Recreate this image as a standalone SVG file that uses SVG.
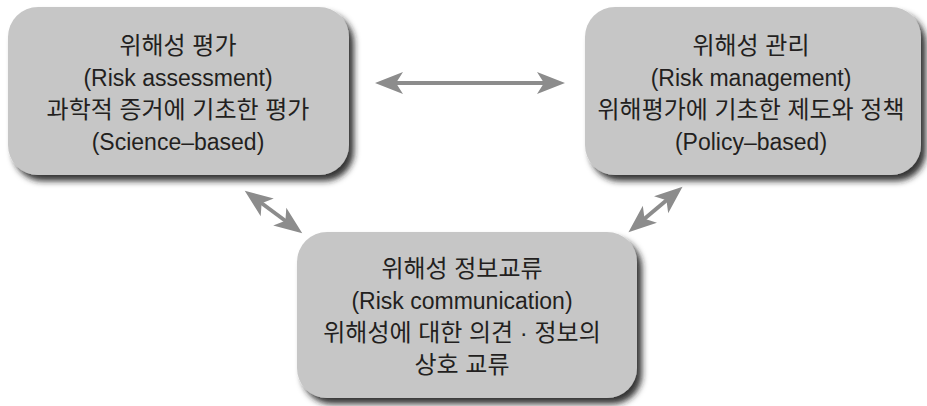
<svg xmlns="http://www.w3.org/2000/svg" width="927" height="406" viewBox="0 0 927 406">
<defs>
<filter id="sh" x="-10%" y="-10%" width="125%" height="130%">
<feDropShadow dx="5" dy="6" stdDeviation="3" flood-color="#1a1a1a" flood-opacity="0.9"/>
</filter>
<marker id="ah" markerUnits="userSpaceOnUse" markerWidth="30" markerHeight="24" viewBox="0 0 30 24" refX="10" refY="12" orient="auto-start-reverse">
<path d="M29,12 L1,1 L8,12 L1,23 Z" fill="#8c8c8c"/>
</marker>
</defs>
<style>
.box{fill:#c6c6c6;filter:url(#sh)}
.t{font-family:"Liberation Sans","Noto Sans CJK KR",sans-serif;font-size:23px;fill:#231f20;text-anchor:middle}
.k{font-size:24px}
.c{stroke:#8c8c8c;stroke-width:4;fill:none;marker-start:url(#ah);marker-end:url(#ah)}
</style>
<rect width="927" height="406" fill="#fff"/>
<g id="assessment">
<rect class="box" x="8" y="7" width="341" height="168" rx="30"/>
<text class="t k" x="178" y="54">위해성 평가</text>
<text class="t" x="178" y="86">(Risk assessment)</text>
<text class="t k" x="178" y="118">과학적 증거에 기초한 평가</text>
<text class="t" x="178" y="150">(Science–based)</text>
</g>
<g id="management">
<rect class="box" x="585" y="7" width="336" height="168" rx="30"/>
<text class="t k" x="751" y="54">위해성 관리</text>
<text class="t" x="751" y="86">(Risk management)</text>
<text class="t k" x="751" y="118">위해평가에 기초한 제도와 정책</text>
<text class="t" x="751" y="150">(Policy–based)</text>
</g>
<g id="communication">
<rect class="box" x="297" y="232" width="340" height="166" rx="30"/>
<text class="t k" x="462" y="277">위해성 정보교류</text>
<text class="t" x="462" y="309">(Risk communication)</text>
<text class="t k" x="462" y="341">위해성에 대한 의견 · 정보의</text>
<text class="t k" x="462" y="373">상호 교류</text>
</g>
<g id="connectors">
<line class="c" x1="394" y1="83" x2="546" y2="83"/>
<line class="c" x1="260" y1="202" x2="287" y2="222"/>
<line class="c" x1="668" y1="199" x2="643" y2="220"/>
</g>
</svg>
